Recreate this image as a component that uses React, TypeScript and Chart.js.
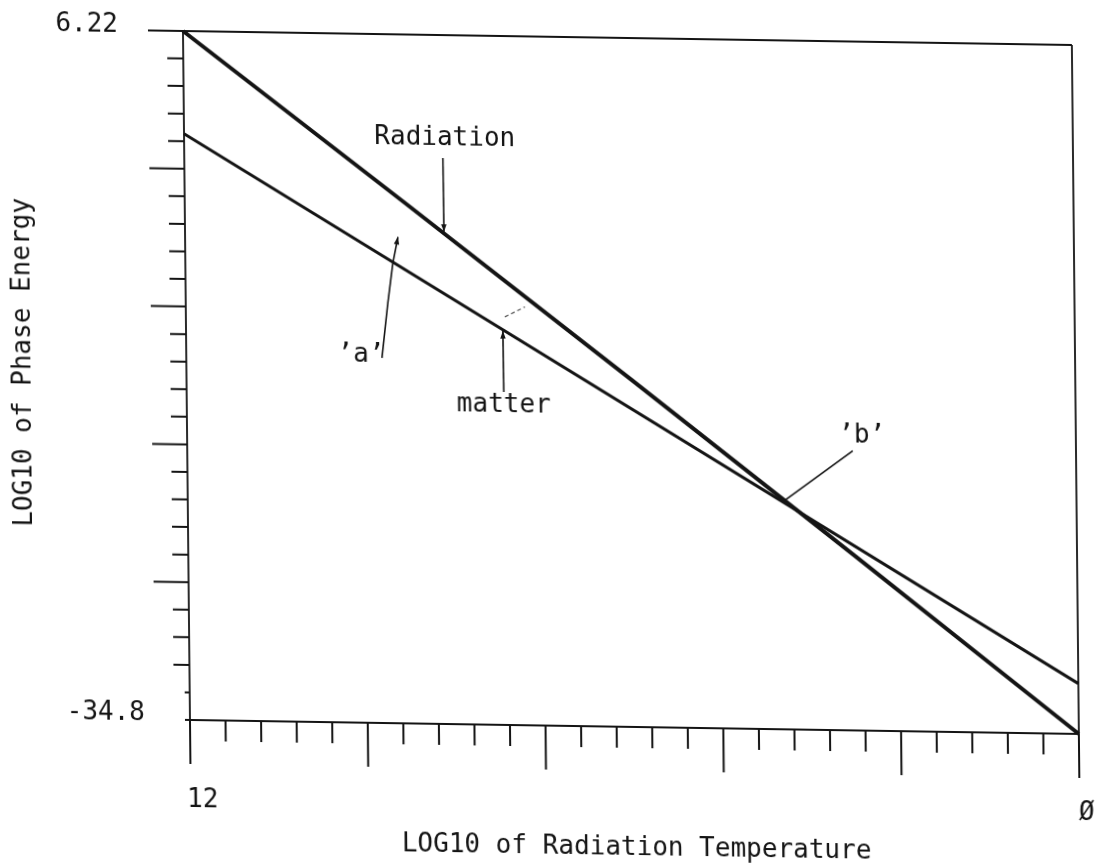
import React, { useEffect, useRef } from 'react';
import { Chart, registerables } from 'chart.js';

Chart.register(...registerables);

// LOG10 of radiation temperature
const radiationTemperature = [12, 9, 6, 3, 0];
// LOG10 of radiation phase energy at those temperatures
const radiationEnergy = [6.22, -3.9, -14.1, -24.4, -34.8];

// LOG10 of radiation temperature
const matterTemperature = [12, 0];
// LOG10 of matter phase energy at those temperatures
const matterEnergy = [0.1, -31.8];

// Axis extent (x runs from 12 on the left down to 0 on the right)
const xExtent = [0, 12];
const yExtent = [-34.8, 6.22];

// Only the end values are labelled
const xTickValues = [12, 0];
const xTickLabels = ['12', '\u00d8'];
const yTickValues = [6.22, -34.8];
const yTickLabels = ['6.22', '-34.8'];

const tickDivisions = 25;
const majorEvery = 5;

const xTitle = 'LOG10 of Radiation Temperature';
const yTitle = 'LOG10 of Phase Energy';

const INK = '#141414';
const FONT = '26px "DejaVu Sans Mono", "Liberation Mono", monospace';

// Callout texts, anchored in data units (centre of the baseline)
const notes = [
  { text: 'Radiation', x: 8.48, y: -0.32 },
  { text: '\u2019a\u2019', x: 9.64, y: -13.32 },
  { text: 'matter', x: 7.72, y: -16.16 },
  { text: '\u2019b\u2019', x: 2.89, y: -17.67 },
];

// Leader lines from the callouts to the curves, in data units
const leaders = [
  { pts: [[8.508, -1.1], [8.504, -5.5]], arrow: true, dash: false },
  { pts: [[9.358, -13.06], [9.271, -9.78], [9.198, -7.4], [9.126, -5.84]], arrow: true, dash: false },
  { pts: [[7.717, -14.97], [7.722, -11.35]], arrow: true, dash: false },
  { pts: [[3.014, -18.15], [3.95, -21.2]], arrow: false, dash: false },
  { pts: [[7.693, -10.5], [7.421, -9.89]], arrow: false, dash: true },
];

const framePlugin = {
  id: 'plotterFrame',
  afterDatasetsDraw(chart: any) {
    const { ctx, chartArea, scales } = chart;
    const { left, right, top, bottom } = chartArea;
    const xs = scales.x;
    const ys = scales.y;
    ctx.save();
    ctx.strokeStyle = INK;
    ctx.fillStyle = INK;
    ctx.lineCap = 'butt';

    // frame
    ctx.lineWidth = 2.2;
    ctx.beginPath();
    ctx.moveTo(left, top);
    ctx.lineTo(right, top);
    ctx.moveTo(left - 5, bottom);
    ctx.lineTo(right, bottom);
    ctx.stroke();
    ctx.lineWidth = 1.8;
    ctx.beginPath();
    ctx.moveTo(left, top);
    ctx.lineTo(left, bottom);
    ctx.moveTo(right, top);
    ctx.lineTo(right, bottom);
    ctx.stroke();

    // y ticks (outside, to the left)
    ctx.lineWidth = 2;
    ctx.beginPath();
    for (let k = 0; k <= tickDivisions; k++) {
      const v = yExtent[1] - (k * (yExtent[1] - yExtent[0])) / tickDivisions;
      const py = ys.getPixelForValue(v);
      let len = k % majorEvery === 0 ? 35 : 16;
      if (k >= tickDivisions - 1) len = 5;
      ctx.moveTo(left, py);
      ctx.lineTo(left - len, py);
    }
    ctx.stroke();

    // x ticks (outside, below)
    ctx.beginPath();
    for (let k = 0; k <= tickDivisions; k++) {
      const v = xExtent[1] - (k * (xExtent[1] - xExtent[0])) / tickDivisions;
      const px = xs.getPixelForValue(v);
      const len = k % majorEvery === 0 ? 44 : 21;
      ctx.moveTo(px, bottom);
      ctx.lineTo(px, bottom + len);
    }
    ctx.stroke();

    // tick labels
    ctx.font = FONT;
    ctx.textBaseline = 'alphabetic';
    ctx.textAlign = 'right';
    ctx.fillText(yTickLabels[0], left - 65, ys.getPixelForValue(yTickValues[0]) + 2);
    ctx.fillText(yTickLabels[1], left - 45, ys.getPixelForValue(yTickValues[1]) + 1);
    ctx.textAlign = 'center';
    ctx.textBaseline = 'middle';
    ctx.fillText(xTickLabels[0], xs.getPixelForValue(xTickValues[0]) + 12, bottom + 80);
    ctx.fillText(xTickLabels[1], xs.getPixelForValue(xTickValues[1]) + 7, bottom + 79);

    // axis titles
    ctx.textBaseline = 'alphabetic';
    ctx.fillText(xTitle, (left + right) / 2 + 1, bottom + 128);
    ctx.save();
    ctx.translate(left - 163, top + 334);
    ctx.rotate(-Math.PI / 2);
    ctx.textBaseline = 'middle';
    ctx.fillText(yTitle, 0, 0);
    ctx.restore();

    // callout texts
    ctx.textAlign = 'center';
    ctx.textBaseline = 'alphabetic';
    for (const n of notes) {
      ctx.fillText(n.text, xs.getPixelForValue(n.x), ys.getPixelForValue(n.y));
    }

    // leader lines
    for (const l of leaders) {
      const p = l.pts.map(([x, y]) => [xs.getPixelForValue(x), ys.getPixelForValue(y)]);
      ctx.lineWidth = l.dash ? 1.2 : 1.6;
      ctx.strokeStyle = l.dash ? '#555' : INK;
      ctx.setLineDash(l.dash ? [4, 3] : []);
      ctx.beginPath();
      ctx.moveTo(p[0][0], p[0][1]);
      for (let i = 1; i < p.length; i++) ctx.lineTo(p[i][0], p[i][1]);
      ctx.stroke();
      ctx.setLineDash([]);
      if (l.arrow) {
        const [x1, y1] = p[p.length - 2];
        const [x2, y2] = p[p.length - 1];
        const a = Math.atan2(y2 - y1, x2 - x1);
        const hl = 8;
        const hw = 0.35;
        ctx.beginPath();
        ctx.moveTo(x2, y2);
        ctx.lineTo(x2 - hl * Math.cos(a - hw), y2 - hl * Math.sin(a - hw));
        ctx.lineTo(x2 - hl * Math.cos(a + hw), y2 - hl * Math.sin(a + hw));
        ctx.closePath();
        ctx.fill();
      }
    }
    ctx.restore();
  },
};

export default function App() {
  const canvasRef = useRef<HTMLCanvasElement>(null);

  useEffect(() => {
    const canvas = canvasRef.current;
    if (!canvas) return;
    const chart = new Chart(canvas, {
      type: 'scatter',
      data: {
        datasets: [
          {
            label: 'Radiation',
            data: radiationTemperature.map((t, i) => ({ x: t, y: radiationEnergy[i] })),
            showLine: true,
            borderColor: INK,
            borderWidth: 4,
            pointRadius: 0,
            tension: 0,
            clip: 6,
          },
          {
            label: 'matter',
            data: matterTemperature.map((t, i) => ({ x: t, y: matterEnergy[i] })),
            showLine: true,
            borderColor: INK,
            borderWidth: 3,
            pointRadius: 0,
            tension: 0,
            clip: 6,
          },
        ],
      },
      options: {
        responsive: false,
        animation: false,
        devicePixelRatio: 1,
        events: [],
        layout: { padding: { left: 183, top: 31, right: 24, bottom: 146 } },
        plugins: { legend: { display: false }, tooltip: { enabled: false } },
        scales: {
          x: { type: 'linear', min: xExtent[0], max: xExtent[1], reverse: true, display: false },
          y: { type: 'linear', min: yExtent[0], max: yExtent[1], display: false },
        },
      },
      plugins: [framePlugin],
    });
    return () => chart.destroy();
  }, []);

  return (
    <div
      style={{
        position: 'fixed',
        left: 0,
        top: 0,
        width: 1096,
        height: 866,
        background: '#ffffff',
        overflow: 'hidden',
      }}
    >
      <canvas
        ref={canvasRef}
        width={1096}
        height={866}
        style={{
          display: 'block',
          width: 1096,
          height: 866,
          transform: 'matrix(1, 0.01575, 0.01016, 1, 0, 0)',
          transformOrigin: '183px 31px',
        }}
      />
    </div>
  );
}
